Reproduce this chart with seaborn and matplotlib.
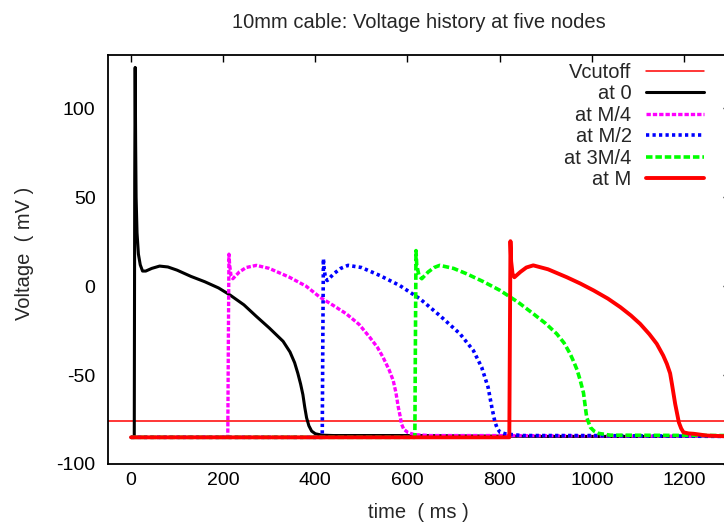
import numpy as np
import pandas as pd
import matplotlib
matplotlib.use("Agg")
import matplotlib.pyplot as plt
import seaborn as sns

# ── data ────────────────────────────────────────────────────────────────────
v_cutoff = -76

t_0 = [0, 7, 8, 9, 10, 11, 13, 16, 20, 25, 32, 45, 62, 80, 100, 130, 160,
       190, 215, 245, 272, 300, 330, 345, 355, 362, 368, 373, 377, 381,
       386, 392, 400, 415, 440, 600, 900, 1300]
v_0 = [-85, -85, 60, 123, 80, 50, 30, 18, 12, 8.5, 8.5, 10, 11.3, 10.8, 9,
       5.5, 2.5, -1, -5, -10.5, -17, -23.5, -31, -37, -43, -49, -55, -61,
       -68, -74, -78.5, -81.5, -83, -83.8, -84, -84, -84.5, -84.5]

t_m4 = [0, 210, 211, 212.5, 214, 217, 221, 235, 250, 272, 300, 344, 380,
        410, 440, 467, 495, 518, 535, 547, 560, 569, 575, 580, 584, 587,
        592, 601, 615, 650, 800, 1300]
v_m4 = [-85, -85, -40, 18, 12, 6, 4.2, 8, 10.5, 11.7, 10, 5, 0, -6.2, -11,
        -15.5, -21.5, -28.7, -34.5, -40, -47, -53, -60, -68, -73, -77.5,
        -80.5, -82.3, -83.5, -84, -84, -84.5]

t_m2 = [0, 415, 416, 417.5, 419, 422, 426, 440, 455, 471, 500, 540, 583,
        627, 670, 714, 743, 761, 775, 783, 790, 795, 801, 815, 850, 1000,
        1300]
v_m2 = [-85, -85, -40, 15.4, 10, 4.5, 3.2, 7, 10, 11.7, 10.5, 6, 0.4, -7.1,
        -16.5, -26.8, -36.2, -45.6, -56.9, -68, -76.6, -80, -82.2, -83.2,
        -84, -84, -84.5]

t_3m4 = [0, 616, 617, 618.5, 620, 625, 631, 645, 658, 670, 700, 728, 765,
         801, 840, 873, 900, 924, 940, 953, 960, 968, 975, 982, 986, 989,
         997, 1005, 1015, 1040, 1300]
v_3m4 = [-85, -85, -40, 20, 12, 6, 4.2, 8, 10.5, 11.7, 10, 7, 2.5, -2.4,
         -9, -15.5, -21, -26.8, -32, -38, -42, -47, -53, -60, -68, -73.8,
         -79.4, -81.5, -82.8, -83.8, -84]

t_m = [0, 821, 822, 823.5, 825, 828, 832, 845, 858, 873, 905, 946, 975,
       1004, 1035, 1062, 1085, 1105, 1125, 1141, 1155, 1163, 1170, 1174,
       1181, 1189, 1194, 1199, 1210, 1221, 1250, 1300]
v_m = [-85, -85, -40, 25.3, 14, 7, 5, 8, 10.5, 11.7, 9.5, 5, 1.5, -2.4,
       -7, -11.8, -16.5, -21.2, -27, -32.4, -39, -43.7, -49, -55, -66.2,
       -76.6, -80, -82.2, -82.8, -83, -84, -84.5]

labels = ["Vcutoff", "at 0", "at M/4", "at M/2", "at 3M/4", "at M"]
x_ticks = [0, 200, 400, 600, 800, 1000, 1200]
y_ticks = [-100, -50, 0, 50, 100]

# ── style ───────────────────────────────────────────────────────────────────
sns.set_theme(style="white")
plt.rcParams["font.family"] = ["Liberation Sans", "DejaVu Sans"]
plt.rcParams["axes.unicode_minus"] = False

fig = plt.figure(figsize=(7.24, 5.27), dpi=100)
W, H = 724, 527
# right border sits just outside the picture, like the cropped original
ax = fig.add_axes([108 / W, (H - 464) / H, (730 - 108) / W, (464 - 55) / H])

ax.axhline(v_cutoff, color="#ff0000", lw=1.1, label=labels[0])

traces = [
    (t_0, v_0, "black", 2.2, "-"),
    (t_m4, v_m4, "#ff00ff", 2.4, (0, (1.3, 0.6))),
    (t_m2, v_m2, "#0000ff", 2.6, (0, (0.9, 0.9))),
    (t_3m4, v_3m4, "#00ff00", 2.6, (0, (1.8, 0.8))),
    (t_m, v_m, "#ff0000", 2.8, "-"),
]
for (t, v, col, lw, ls), lab in zip(traces, labels[1:]):
    df = pd.DataFrame({"t": t, "v": v})
    sns.lineplot(data=df, x="t", y="v", ax=ax, color=col, lw=lw,
                 linestyle=ls, label=lab, estimator=None, sort=False,
                 legend=False)

ax.set_xlim(-50, 1300)
ax.set_ylim(-100, 130)
ax.set_xticks(x_ticks)
ax.set_yticks(y_ticks)
ax.tick_params(direction="in", length=5, width=1, top=True, right=True,
               labelsize=14, colors="black")
ax.tick_params(axis="y", pad=9)
ax.tick_params(axis="x", pad=6)
for s in ax.spines.values():
    s.set_color("black")
    s.set_linewidth(1.3)

ax.set_xlabel("time  ( ms )", fontsize=14.5, va="center")
ax.xaxis.set_label_coords((418 - 108) / 622, (464 - 513) / 409)
ax.set_ylabel("Voltage  ( mV )", fontsize=14.5, va="center")
ax.yaxis.set_label_coords((24 - 108) / 622, (464 - 253) / 409)

fig.text(419 / W, 1 - 23 / H, "10mm cable: Voltage history at five nodes",
         ha="center", va="center", fontsize=14.5)

ax.legend(loc="upper right", bbox_to_anchor=(704 / W, (H - 63) / H),
          bbox_transform=fig.transFigure, frameon=False, fontsize=14.5,
          markerfirst=False, handlelength=2.9, handletextpad=0.7,
          labelspacing=0.12, borderpad=0, borderaxespad=0)

fig.savefig("out.png", dpi=100)
